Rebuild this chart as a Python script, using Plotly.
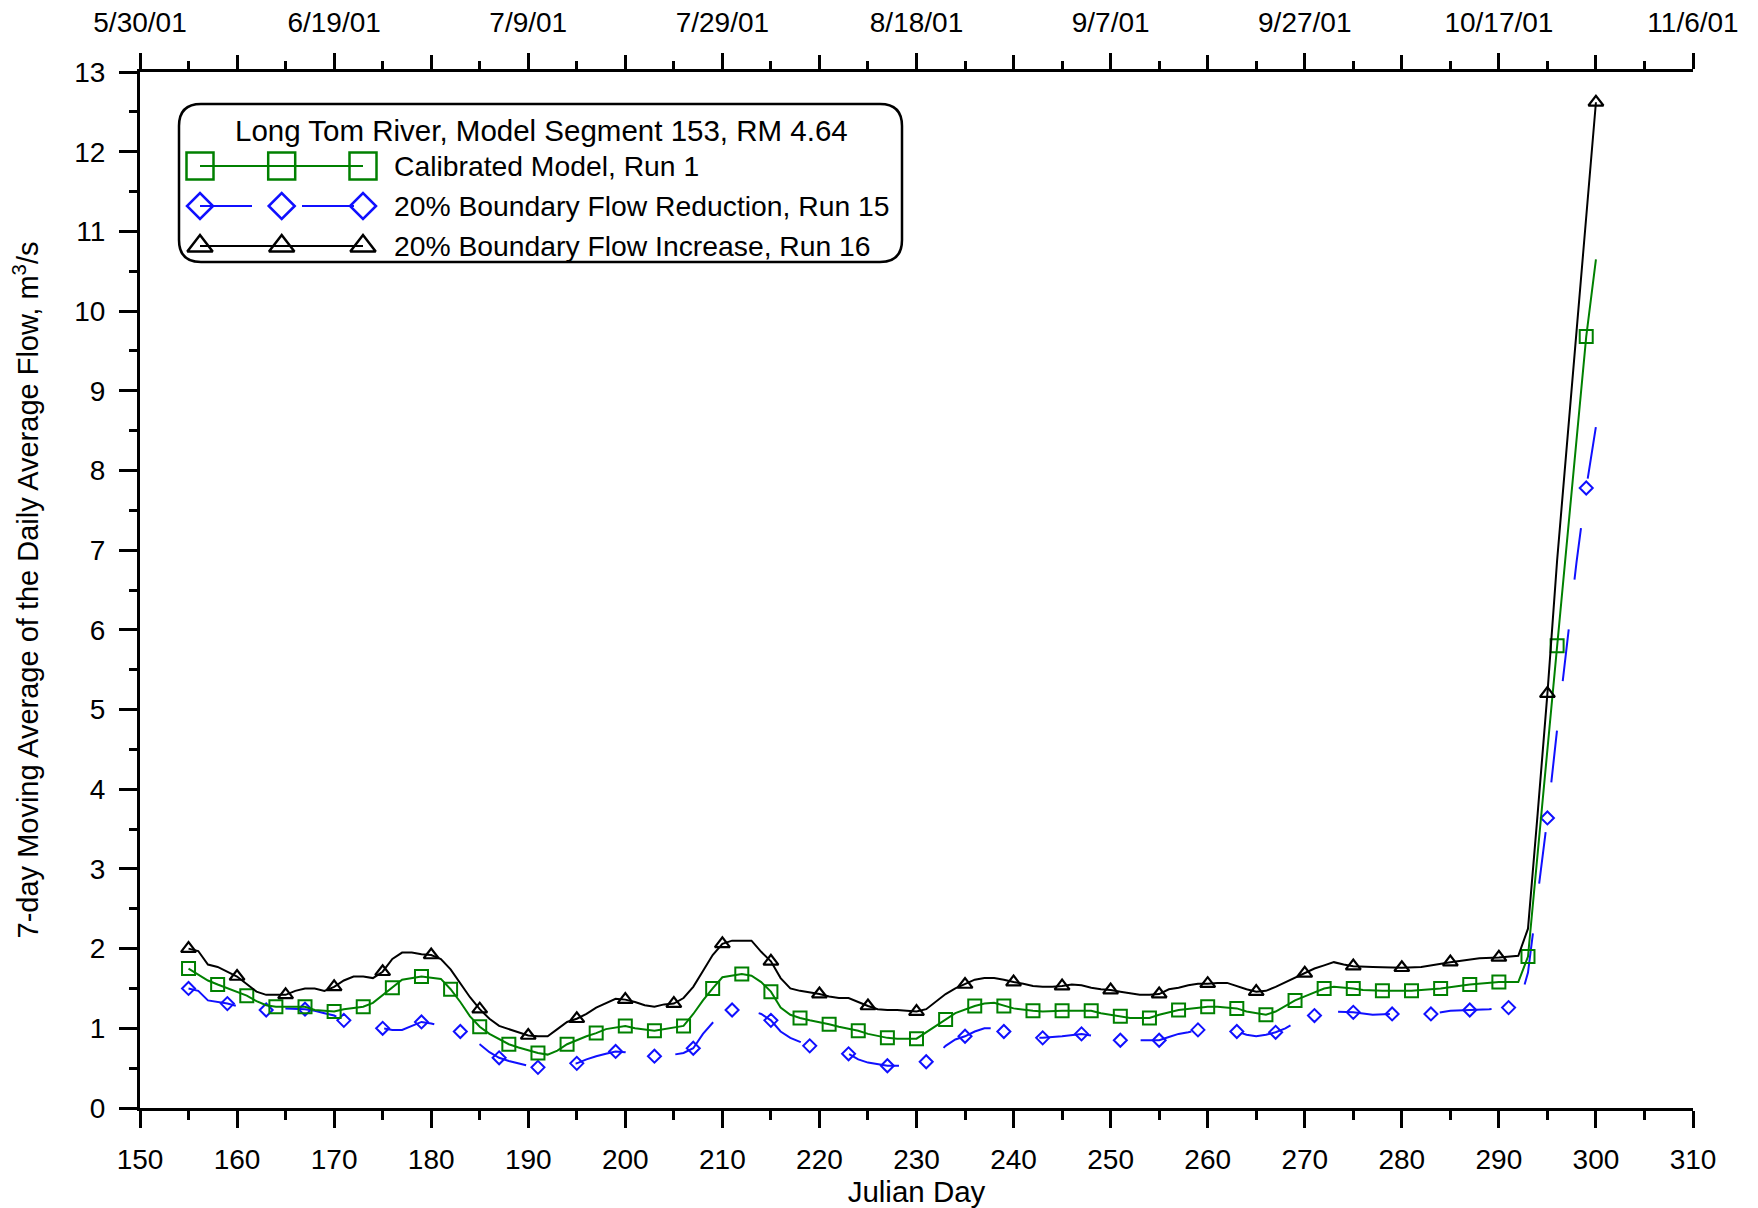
import plotly.graph_objects as go

# ---------------- data ----------------
green_day = [155,157,158,159,161,162,163,164,165,167,168,170,171,173,174,176,177,179,181,182,183,184,185,186,188,189,
             191,192,193,194,195,196,197,198,200,201,203,204,206,207,208,209,210,212,213,214,215,216,217,218,219,221,
             222,224,225,227,228,230,231,232,233,234,236,237,238,239,240,242,243,245,248,249,251,252,254,255,257,260,
             261,263,264,266,267,269,270,272,273,275,276,278,281,284,287,290,292,293,294,295,296,297,298,299,300]
green_val = [1.75,1.60,1.55,1.50,1.41,1.34,1.29,1.27,1.27,1.27,1.23,1.21,1.24,1.27,1.32,1.51,1.61,1.65,1.62,1.49,1.33,
             1.15,1.02,0.93,0.80,0.76,0.69,0.67,0.72,0.80,0.85,0.90,0.94,0.99,1.03,1.00,0.97,0.99,1.03,1.18,1.35,1.50,
             1.64,1.68,1.66,1.58,1.46,1.26,1.17,1.13,1.10,1.05,1.02,0.97,0.93,0.88,0.87,0.87,0.95,1.03,1.11,1.19,1.28,
             1.31,1.32,1.28,1.25,1.22,1.21,1.22,1.22,1.19,1.15,1.13,1.13,1.17,1.23,1.27,1.27,1.25,1.21,1.17,1.21,1.35,
             1.40,1.50,1.52,1.50,1.48,1.47,1.47,1.50,1.55,1.58,1.58,1.90,3.20,4.50,5.80,7.10,8.40,9.68,10.65]

black_day = [155,156,157,158,160,161,162,163,164,165,166,167,168,169,170,171,172,173,174,175,176,177,178,179,180,181,
             182,183,184,185,186,187,188,189,190,191,192,193,194,195,196,197,198,199,200,201,202,203,204,205,206,207,
             208,209,210,211,212,213,214,215,216,217,218,219,220,221,222,223,224,225,226,227,228,229,230,231,232,233,
             234,235,236,237,238,239,240,241,242,243,244,245,246,247,248,249,250,251,252,253,254,255,256,257,258,259,
             260,261,262,263,264,265,266,267,268,269,270,271,272,273,274,275,277,280,282,283,285,288,290,292,293,294,
             295,296,297,298,299,300]
black_val = [2.00,1.97,1.80,1.77,1.65,1.55,1.46,1.42,1.42,1.42,1.47,1.50,1.50,1.47,1.52,1.60,1.65,1.65,1.63,1.71,1.87,
             1.95,1.95,1.93,1.92,1.87,1.74,1.57,1.39,1.24,1.12,1.03,0.99,0.95,0.91,0.90,0.90,0.99,1.08,1.12,1.18,1.26,
             1.32,1.37,1.36,1.33,1.29,1.27,1.30,1.31,1.38,1.52,1.72,1.92,2.06,2.10,2.10,2.10,1.96,1.84,1.63,1.50,1.47,
             1.45,1.43,1.40,1.38,1.38,1.33,1.28,1.24,1.23,1.23,1.22,1.21,1.24,1.33,1.43,1.50,1.55,1.61,1.63,1.63,1.61,
             1.58,1.56,1.53,1.52,1.52,1.53,1.55,1.54,1.51,1.49,1.48,1.46,1.44,1.42,1.42,1.43,1.49,1.51,1.54,1.56,1.56,
             1.57,1.57,1.53,1.49,1.46,1.47,1.52,1.58,1.64,1.69,1.75,1.79,1.83,1.80,1.78,1.77,1.76,1.77,1.79,1.83,1.88,
             1.89,1.91,2.25,3.70,5.20,6.87,8.30,9.75,11.20,12.62]

blue_day = [155,156,157,158,159,161,163,164,165,167,168,169,170,171,172,173,175,176,177,178,179,180,181,183,184,185,
            186,187,188,189,190,191,192,193,195,196,197,198,199,200,201,202,203,204,205,206,207,208,209,210,211,212,
            213,214,215,216,217,218,219,220,221,222,223,224,225,226,227,228,229,230,231,232,233,234,235,236,237,238,
            239,240,241,242,243,245,247,248,249,250,251,252,254,255,256,257,258,259,260,261,262,263,264,265,266,267,
            268,269,270,271,272,273,275,277,279,281,283,285,287,289,291,292,293,294,295,296,297,298,299,300]
blue_val = [1.50,1.47,1.35,1.33,1.31,1.25,1.23,1.24,1.25,1.24,1.22,1.19,1.16,1.10,1.05,1.01,1.00,0.98,0.98,1.03,1.08,
            1.06,1.03,0.96,0.88,0.80,0.70,0.63,0.59,0.56,0.53,0.51,0.52,0.55,0.56,0.61,0.65,0.68,0.71,0.70,0.68,0.66,
            0.65,0.66,0.67,0.69,0.75,0.93,1.07,1.18,1.23,1.24,1.22,1.18,1.10,0.96,0.88,0.83,0.78,0.75,0.73,0.71,0.68,
            0.61,0.57,0.55,0.53,0.53,0.53,0.55,0.58,0.66,0.78,0.86,0.90,0.96,1.00,1.00,0.96,0.92,0.89,0.88,0.88,0.90,
            0.93,0.91,0.89,0.87,0.85,0.85,0.85,0.85,0.89,0.93,0.95,0.98,0.98,0.97,0.96,0.96,0.92,0.90,0.92,0.95,1.00,
            1.07,1.12,1.16,1.19,1.21,1.20,1.17,1.18,1.17,1.18,1.22,1.23,1.24,1.26,1.27,1.70,2.65,3.64,4.75,5.80,6.85,
            7.78,8.55]

bottom_ticks = list(range(150, 311, 10))
top_label_days = list(range(150, 311, 20))
top_label_text = ["5/30/01", "6/19/01", "7/9/01", "7/29/01", "8/18/01",
                  "9/7/01", "9/27/01", "10/17/01", "11/6/01"]
top_mid_days = list(range(160, 311, 20))

series_names = ["Calibrated Model, Run 1",
                "20% Boundary Flow Reduction, Run 15",
                "20% Boundary Flow Increase, Run 16"]
legend_title = "Long Tom River, Model Segment 153, RM 4.64"

# ---------------- styling ----------------
FONT = "Arial, 'Liberation Sans', sans-serif"
GREEN = "#008000"
BLUE = "#1010ff"
BLACK = "#000000"
DASH = "52px,50px"

# page body has an 8px margin; lay the figure out in page pixels minus that offset
OFF = 8
W, H = 1758 - OFF, 1208 - OFF
PL, PR, PT, PB = 140, 1693, 72, 1108          # plot box in page pixels
ML, MR, MT, MB = PL - OFF, W - (PR - OFF), PT - OFF, H - (PB - OFF)


def subset(days, vals, start, step):
    d = [a for a, b in zip(days, vals) if (a - start) % step == 0]
    v = [b for a, b in zip(days, vals) if (a - start) % step == 0]
    return d, v


fig = go.Figure()

# blue (dashed)
fig.add_trace(go.Scatter(x=blue_day, y=blue_val, mode="lines",
                         line=dict(color=BLUE, width=2, dash=DASH), showlegend=False))
bd, bv = subset(blue_day, blue_val, 155, 4)
fig.add_trace(go.Scatter(x=bd, y=bv, mode="markers", showlegend=False,
                         marker=dict(symbol="diamond-open", size=10, color=BLUE, line=dict(width=2))))
# green
fig.add_trace(go.Scatter(x=green_day, y=green_val, mode="lines",
                         line=dict(color=GREEN, width=2), showlegend=False))
gd, gv = subset(green_day, green_val, 155, 3)
fig.add_trace(go.Scatter(x=gd, y=gv, mode="markers", showlegend=False,
                         marker=dict(symbol="square-open", size=13, color=GREEN, line=dict(width=2))))
# black
fig.add_trace(go.Scatter(x=black_day, y=black_val, mode="lines",
                         line=dict(color=BLACK, width=2), showlegend=False))
kd, kv = subset(black_day, black_val, 155, 5)
fig.add_trace(go.Scatter(x=kd, y=kv, mode="markers", showlegend=False,
                         marker=dict(symbol="triangle-up-open", size=13, color=BLACK, line=dict(width=2.2))))

# ---------------- custom legend on a page-pixel overlay axis ----------------
LX = [200, 281.7, 363]
rows = [(166, GREEN, "square-open", 27, None),
        (206, BLUE, "diamond-open", 20, DASH),
        (246, BLACK, "triangle-up-open", 22, None)]
for (yy, col, sym, sz, dash), name in zip(rows, series_names):
    fig.add_trace(go.Scatter(x=LX, y=[yy] * 3, xaxis="x3", yaxis="y3", mode="lines+markers",
                             showlegend=False, hoverinfo="skip",
                             line=dict(color=col, width=2, dash=dash),
                             marker=dict(symbol=sym, size=sz, color=col, line=dict(width=2.5))))
    fig.add_annotation(x=392, y=yy, xref="x3", yref="y3", text=name, showarrow=False,
                       xanchor="left", yanchor="middle", font=dict(family=FONT, size=28.3, color="black"))
fig.add_annotation(x=541, y=130, xref="x3", yref="y3", text=legend_title, showarrow=False,
                   xanchor="center", yanchor="middle", font=dict(family=FONT, size=29.5, color="black"))

bx0, bx1, by0, by1, r = 179, 902, 104, 262, 22
path = (f"M {bx0+r},{by0} L {bx1-r},{by0} Q {bx1},{by0} {bx1},{by0+r} "
        f"L {bx1},{by1-r} Q {bx1},{by1} {bx1-r},{by1} L {bx0+r},{by1} "
        f"Q {bx0},{by1} {bx0},{by1-r} L {bx0},{by0+r} Q {bx0},{by0} {bx0+r},{by0} Z")
fig.add_shape(type="path", path=path, xref="x3", yref="y3",
              line=dict(color="black", width=2.5), fillcolor="rgba(0,0,0,0)")

tickfont = dict(family=FONT, size=28, color="black")

fig.update_layout(
    width=W, height=H,
    margin=dict(l=ML, r=MR, t=MT, b=MB, autoexpand=False),
    paper_bgcolor="white", plot_bgcolor="white",
    showlegend=False,
    xaxis=dict(range=[150, 310], tickmode="array", tickvals=bottom_ticks, automargin=False,
               ticks="outside", ticklen=17, tickwidth=2.5, tickcolor="black",
               showline=True, linewidth=3, linecolor="black", showgrid=False, zeroline=False,
               mirror=False, tickfont=tickfont, ticklabelstandoff=7,
               minor=dict(tickmode="linear", tick0=150, dtick=5, ticks="outside", ticklen=9,
                          tickwidth=2.5, tickcolor="black", showgrid=False),
               title=dict(text="Julian Day", font=dict(family=FONT, size=29.5, color="black"), standoff=3)),
    xaxis2=dict(range=[150, 310], overlaying="x", side="top", anchor="y", automargin=False,
                tickmode="array", tickvals=top_label_days, ticktext=top_label_text,
                ticks="outside", ticklen=16, tickwidth=2.5, tickcolor="black",
                showline=True, linewidth=3, linecolor="black", showgrid=False, zeroline=False,
                tickfont=tickfont, ticklabelstandoff=10,
                minor=dict(tickmode="linear", tick0=150, dtick=5, ticks="outside", ticklen=8,
                           tickwidth=2.5, tickcolor="black", showgrid=False)),
    xaxis4=dict(range=[150, 310], overlaying="x", side="top", anchor="y", automargin=False,
                tickmode="array", tickvals=top_mid_days, showticklabels=False,
                ticks="outside", ticklen=16, tickwidth=2.5, tickcolor="black",
                showline=False, showgrid=False, zeroline=False),
    yaxis=dict(range=[0, 13], tickmode="linear", tick0=0, dtick=1, automargin=False,
               ticks="outside", ticklen=18, tickwidth=2.5, tickcolor="black",
               showline=True, linewidth=3, linecolor="black", showgrid=False, zeroline=False,
               mirror=False, tickfont=tickfont, ticklabelstandoff=8,
               minor=dict(tickmode="linear", tick0=0, dtick=0.5, ticks="outside", ticklen=8,
                          tickwidth=2.5, tickcolor="black", showgrid=False),
               title=dict(text="7-day Moving Average of the Daily Average Flow, m<sup>3</sup>/s",
                          font=dict(family=FONT, size=29, color="black"), standoff=28)),
    xaxis3=dict(range=[PL, PR], overlaying="x", anchor="y3", visible=False, fixedrange=True),
    yaxis3=dict(range=[PB, PT], overlaying="y", anchor="x3", visible=False, fixedrange=True),
)

# invisible traces so the overlaid top axes are rendered
fig.add_trace(go.Scatter(x=[150], y=[0], xaxis="x2", mode="markers", marker=dict(opacity=0),
                         showlegend=False, hoverinfo="skip"))
fig.add_trace(go.Scatter(x=[150], y=[0], xaxis="x4", mode="markers", marker=dict(opacity=0),
                         showlegend=False, hoverinfo="skip"))

fig.write_html("out.html")
